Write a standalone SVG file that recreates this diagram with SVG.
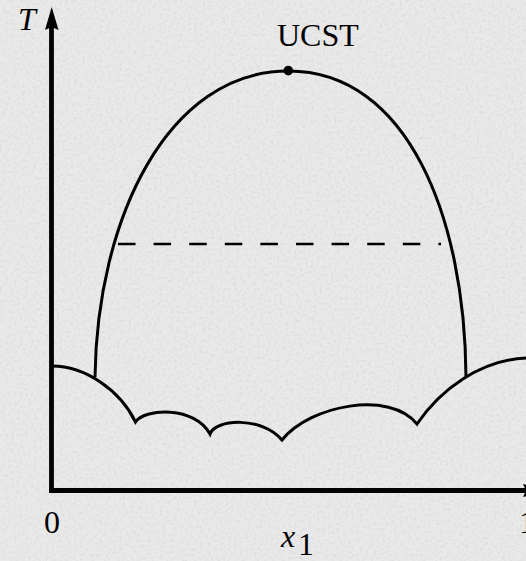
<svg xmlns="http://www.w3.org/2000/svg" width="526" height="561" viewBox="0 0 526 561">
  <defs>
    <filter id="paper" x="0" y="0" width="100%" height="100%">
      <feTurbulence type="fractalNoise" baseFrequency="0.35" numOctaves="2" seed="7" result="n"/>
      <feColorMatrix in="n" type="matrix" values="0 0 0 0 0.55  0 0 0 0 0.55  0 0 0 0 0.55  0 0 0 -1.4 0.75"/>
    </filter>
  </defs>
  <style>
    .curve { fill: none; stroke: #000; stroke-width: 3; stroke-linejoin: miter; }
    .axis { fill: none; stroke: #000; stroke-width: 4.8; }
    .dash { fill: none; stroke: #000; stroke-width: 2.6; stroke-dasharray: 17.5 18.1; }
    .lbl { font-family: "Liberation Serif", "Times New Roman", serif; font-size: 32px; fill: #000; }
    .it { font-style: italic; }
  </style>
  <rect x="0" y="0" width="526" height="561" fill="#e9e9e9"/>
  <rect x="0" y="0" width="526" height="561" filter="url(#paper)" opacity="0.6"/>

  <g id="axes">
    <line class="axis" x1="51.5" y1="492.8" x2="51.5" y2="26"/>
    <polygon points="51.7,7 58.5,30 51.7,27 45,30" fill="#000"/>
    <line class="axis" x1="49.1" y1="490.5" x2="526" y2="490.5"/>
    <polygon points="546,490.5 523,484 526,490.5 523,497" fill="#000"/>
  </g>

  <g id="connectors">
    <path id="dome" class="curve" d="M95,377 C97,220 167,71 288.3,71 C408,71 465,218 466,377"/>
    <path id="solidus" class="curve" d="M52,366 C85,366 120,390 135.5,422 C145,408 195,406 210,434 C215,419 262,416 282,440 C310,405 390,390 417,424 C440,390 480,360 526,358"/>
    <line id="tieline" class="dash" x1="118" y1="244" x2="441" y2="244"/>
  </g>

  <g id="ucst">
    <circle cx="288.3" cy="70.6" r="4.8" fill="#000"/>
    <text class="lbl" x="277" y="46">UCST</text>
  </g>

  <g id="labels">
    <text class="lbl it" x="18" y="30">T</text>
    <text class="lbl" x="44" y="533">0</text>
    <text class="lbl" x="519" y="533">1</text>
    <text class="lbl it" x="281" y="547">x</text>
    <text class="lbl" x="298" y="555" font-size="24">1</text>
  </g>
</svg>
